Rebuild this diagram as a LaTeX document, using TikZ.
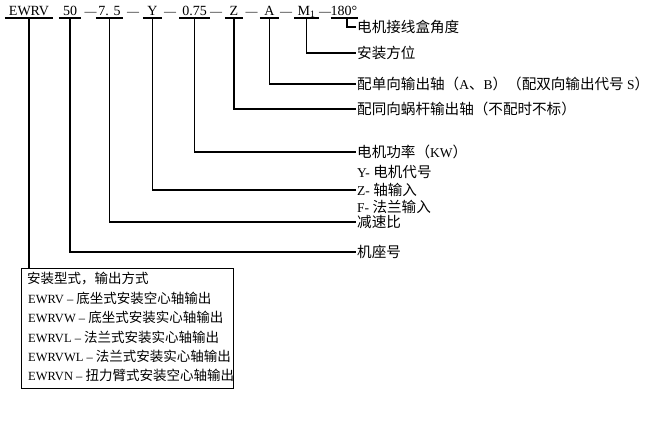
\documentclass[tikz,border=0pt]{standalone}
\usepackage{fontspec}
\setmainfont{Liberation Serif}
\newfontfamily\cjk[Scale=1.08]{Noto Sans CJK SC}
\newcommand{\zh}[1]{{\cjk #1}}
\usetikzlibrary{calc}

\begin{document}
\begin{tikzpicture}[x=1pt,y=-1pt,
    code/.style={anchor=south, inner xsep=0pt, inner ysep=2.5pt, text height=9.5pt, text depth=0pt, font=\fontsize{14}{16}\selectfont},
    sep/.style={anchor=base, inner sep=0pt, font=\fontsize{12}{15}\selectfont},
    lbl/.style={anchor=west, inner sep=1pt, font=\fontsize{13.5}{16}\selectfont},
    row/.style={anchor=west, inner sep=0pt, font=\fontsize{12.5}{15}\selectfont},
    rule/.style={line width=1.3pt},
    lead/.style={line width=1.1pt}]
    \useasboundingbox (0,0) rectangle (650,428);
    % Type code
    \node[code, minimum width=48pt] (ewrv) at (29,18) {EWRV};
    \node[code, minimum width=22pt] (frame) at (70,18) {50};
    \node[code, minimum width=27pt] (ratio) at (109.5,18) {7. 5};
    \node[code, minimum width=19pt] (motor) at (152.5,18) {Y};
    \node[code, minimum width=30pt] (power) at (194.5,18) {0.75};
    \node[code, minimum width=18pt] (worm) at (234,18) {Z};
    \node[code, minimum width=19pt] (shaft) at (269.5,18) {A};
    \node[code, minimum width=24pt] (mount) at (306.5,18) {M\textsubscript{1}};
    \node[code, minimum width=22pt] (angle) at (344,18) {180°};
    \coordinate (angle-foot) at ($(angle.south)+(3,0)$);
    \foreach \n in {ewrv,frame,ratio,motor,power,worm,shaft,mount,angle}
      \draw[rule] (\n.south west) -- (\n.south east);
    % Dashes between the parts
    \node[sep] (d1) at (90.5,15.5) {—};
    \node[sep] (d2) at (133,15.5) {—};
    \node[sep] (d3) at (170,15.5) {—};
    \node[sep] (d4) at (216,15.5) {—};
    \node[sep] (d5) at (251.5,15.5) {—};
    \node[sep] (d6) at (286,15.5) {—};
    \node[sep] (d7) at (325,15.5) {—};
    % Meanings
    \node[lbl] (l-angle) at (356,27) {\zh{电机接线盒角度}};
    \node[lbl] (l-mount) at (356,53) {\zh{安装方位}};
    \node[lbl] (l-shaft) at (356,84) {\zh{配单向输出轴（}A\zh{、}B\zh{）（配双向输出代号 }S\zh{）}};
    \node[lbl] (l-worm) at (356,109) {\zh{配同向蜗杆输出轴（不配时不标）}};
    \node[lbl] (l-power) at (356,152) {\zh{电机功率（}KW\zh{）}};
    \node[lbl] (l-y) at (356,172) {Y- \zh{电机代号}};
    \node[lbl] (l-z) at (356,190) {Z- \zh{轴输入}};
    \node[lbl] (l-f) at (356,207) {F- \zh{法兰输入}};
    \node[lbl] (l-ratio) at (356,222) {\zh{减速比}};
    \node[lbl] (l-frame) at (356,252) {\zh{机座号}};
    % Leaders
    \draw[lead] (angle-foot) |- (l-angle.west);
    \draw[lead] (mount.south) |- (l-mount.west);
    \draw[lead] (shaft.south) |- (l-shaft.west);
    \draw[lead] (worm.south) |- (l-worm.west);
    \draw[lead] (power.south) |- (l-power.west);
    \draw[lead] (motor.south) |- (l-z.west);
    \draw[lead] (ratio.south) |- (l-ratio.west);
    \draw[lead] (frame.south) |- (l-frame.west);
    % Mounting types
    \node[draw, line width=0.8pt, minimum width=212pt, minimum height=120pt, anchor=north west, inner sep=0pt] (box) at (21,268) {};
    \draw[lead] (ewrv.south) -- (ewrv.south |- box.north);
    \node[row] (head) at (27,279) {\zh{安装型式，输出方式}};
    \foreach \code/\desc [count=\i] in {EWRV/底坐式安装空心轴输出, EWRVW/底坐式安装实心轴输出, EWRVL/法兰式安装实心轴输出, EWRVWL/法兰式安装实心轴输出, EWRVN/扭力臂式安装空心轴输出}
      \node[row] (row\i) at (28,{279+19.3*\i}) {\code\ -- \zh{\desc}};
\end{tikzpicture}
\end{document}
